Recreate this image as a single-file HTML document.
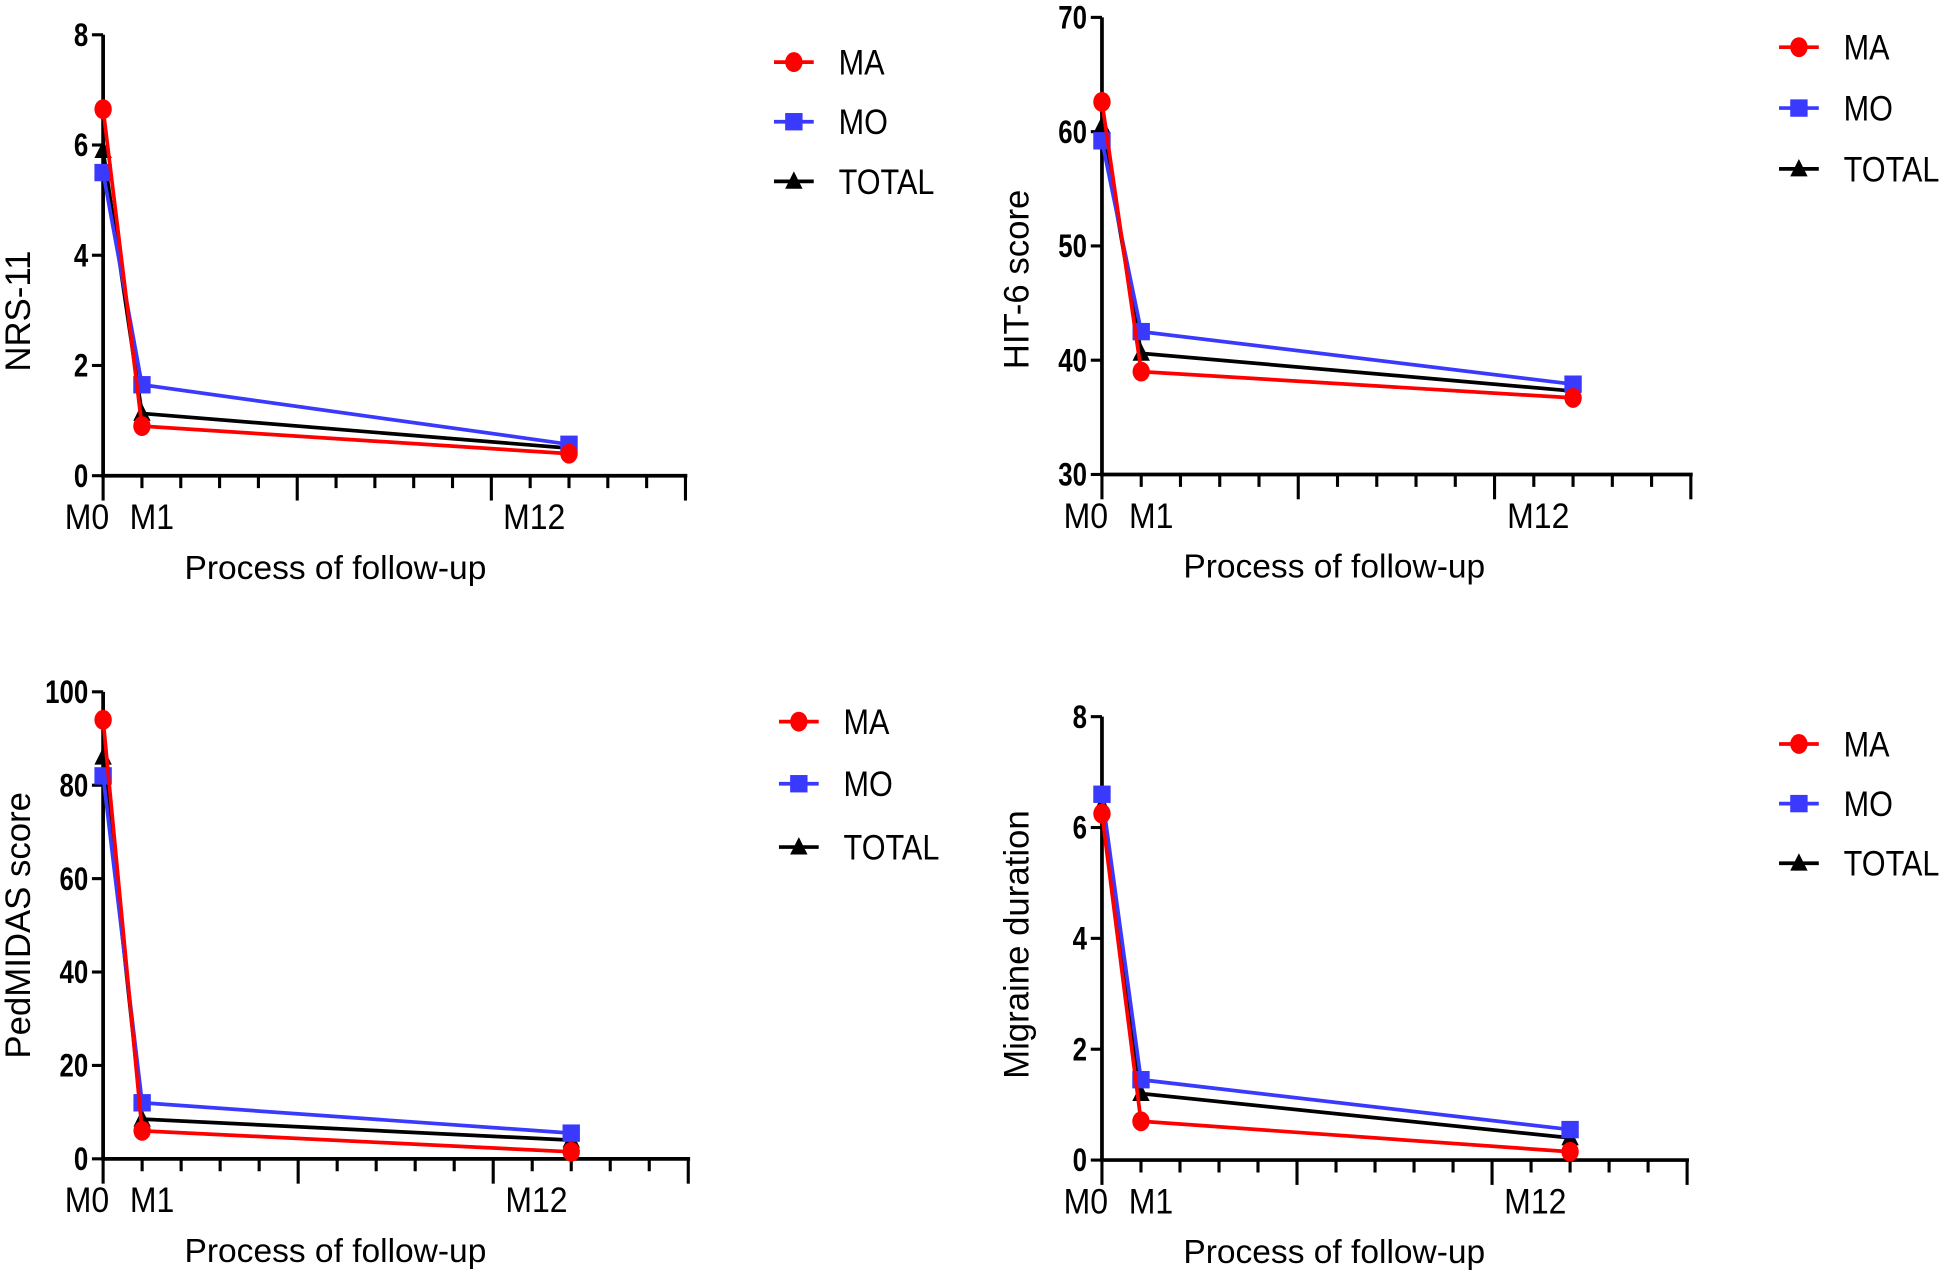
<!DOCTYPE html>
<html><head><meta charset="utf-8"><style>
html,body{margin:0;padding:0;background:#fff;}
svg{display:block;}
text{font-family:"Liberation Sans",sans-serif;}
</style></head><body>
<svg id="fig" width="1948" height="1288" viewBox="0 0 1568 1037" preserveAspectRatio="none" xmlns="http://www.w3.org/2000/svg"></svg>
<script>
const months = [0, 1, 12];
const catLabels = ["M0", "M1", "M12"];
const seriesNames = ["MA", "MO", "TOTAL"];
const nrsMA = [6.65, 0.9, 0.4];
const nrsMO = [5.5, 1.65, 0.57];
const nrsTOTAL = [5.9, 1.13, 0.5];
const hitMA = [62.6, 39.0, 36.7];
const hitMO = [59.2, 42.5, 37.9];
const hitTOTAL = [60.5, 40.6, 37.3];
const pedMA = [94, 6, 1.5];
const pedMO = [82, 12, 5.5];
const pedTOTAL = [86, 8.5, 4];
const durMA = [6.25, 0.7, 0.15];
const durMO = [6.6, 1.45, 0.55];
const durTOTAL = [6.4, 1.2, 0.4];
const nrsTicks = [0, 2, 4, 6, 8];
const hitTicks = [30, 40, 50, 60, 70];
const pedTicks = [0, 20, 40, 60, 80, 100];
const durTicks = [0, 2, 4, 6, 8];

const NS = "http://www.w3.org/2000/svg";
const svg = document.getElementById("fig");
const colors = {MA: "#ff0000", MO: "#3a3aff", TOTAL: "#000000"};
function mk(tag, attrs, parent) {
  const e = document.createElementNS(NS, tag);
  for (const k in attrs) e.setAttribute(k, attrs[k]);
  (parent || svg).appendChild(e);
  return e;
}
function txt(parent, x, y, s, size, sx, anchor, bold) {
  const t = mk("text", {x: 0, y: 0, "text-anchor": anchor || "start", "font-size": size, transform: `translate(${x},${y}) scale(${sx},1)`}, parent);
  if (bold) t.setAttribute("font-weight", "bold");
  t.textContent = s;
  return t;
}
function marker(g, name, x, y) {
  let m;
  if (name === "MA") m = mk("ellipse", {cx: x, cy: y, rx: 7, ry: 8, fill: colors.MA}, g);
  else if (name === "MO") m = mk("rect", {x: x - 7, y: y - 7, width: 14, height: 14, fill: colors.MO}, g);
  else m = mk("polygon", {points: `${x},${y - 8} ${x + 7},${y + 6} ${x - 7},${y + 6}`, fill: "#000"}, g);
  return m;
}
function panel(p) {
  const g = mk("g", {});
  
  
  const x0 = p.ax, x15 = p.ax + 15 * p.perMonth;
  const yMin = p.ticks[0], yMax = p.ticks[p.ticks.length - 1];
  const X = m => p.ax + m * p.perMonth;
  const Y = v => p.yBot - (v - yMin) / (yMax - yMin) * (p.yBot - p.yTop);
  const yax = mk("line", {x1: x0, y1: p.yTop, x2: x0, y2: p.yBot + 1.5, stroke: "#000", "stroke-width": 3}, g);
  
  
  const xax = mk("line", {x1: x0 - 1.5, y1: p.yBot, x2: x15 + 1.5, y2: p.yBot, stroke: "#000", "stroke-width": 3}, g);
  
  
  for (let m = 0; m <= 15; m++) {
    const len = (m % 5 === 0) ? 20 : 10;
    mk("line", {x1: X(m), y1: p.yBot, x2: X(m), y2: p.yBot + len, stroke: "#000", "stroke-width": 2.5}, g);
  }
  p.ticks.forEach(t => {
    mk("line", {x1: x0 - 9, y1: Y(t), x2: x0, y2: Y(t), stroke: "#000", "stroke-width": 2.5}, g);
    const tl = txt(g, x0 - 12, Y(t) + 9, String(t), 26, 0.8, "end", true);
    
    
  });
  catLabels.forEach((c, i) => {
    const off = i === 0 ? -13 : (i === 1 ? 8 : -28);
    const tl = txt(g, X(months[i]) + off, p.yBot + 43, c, 28, 0.92, "middle", false);
    
    
  });
  const xt = txt(g, p.ax + 187, p.yBot + 83, "Process of follow-up", 27, 1, "middle", false);
  
  
  const yt = mk("text", {x: 0, y: 0, "text-anchor": "middle", "font-size": 28, transform: `translate(${p.ax - 59},${(p.yTop + p.yBot) / 2 + p.ytOff}) rotate(-90)`}, g);
  yt.textContent = p.ytitle;
  
  
  [["TOTAL", p.data[2]], ["MO", p.data[1]], ["MA", p.data[0]]].forEach(([name, vals]) => {
    const sg = mk("g", {}, g);
    
    
    const pts = vals.map((v, i) => `${X(months[i])},${Y(v)}`).join(" ");
    mk("polyline", {points: pts, fill: "none", stroke: colors[name], "stroke-width": 3}, sg);
    vals.forEach((v, i) => {
      const mm = marker(sg, name, X(months[i]), Y(v));
      
      
    });
  });
  const lg = mk("g", {}, g);
  
  
  seriesNames.forEach((n, i) => {
    const y = p.legY[i];
    const e = mk("g", {}, lg);
    
    
    mk("line", {x1: p.legX, y1: y, x2: p.legX + 32, y2: y, stroke: colors[n], "stroke-width": 3}, e);
    marker(e, n, p.legX + 16, y);
    txt(e, p.legX + 52, y + 10, n, 28, 0.88, "start", false);
  });
}
panel({name: "nrs-chart", ax: 83, perMonth: 31.25, yTop: 28, yBot: 383, ticks: nrsTicks, data: [nrsMA, nrsMO, nrsTOTAL], ytitle: "NRS-11", ytOff: 45, legX: 623, legY: [50, 98, 146]});
panel({name: "hit6-chart", ax: 887, perMonth: 31.6, yTop: 14, yBot: 382, ticks: hitTicks, data: [hitMA, hitMO, hitTOTAL], ytitle: "HIT-6 score", ytOff: 27, legX: 1432, legY: [38, 87, 136]});
panel({name: "pedmidas-chart", ax: 83, perMonth: 31.4, yTop: 557, yBot: 933, ticks: pedTicks, data: [pedMA, pedMO, pedTOTAL], ytitle: "PedMIDAS score", ytOff: 0, legX: 627, legY: [581, 631, 682]});
panel({name: "migraine-duration-chart", ax: 887, perMonth: 31.4, yTop: 577, yBot: 934, ticks: durTicks, data: [durMA, durMO, durTOTAL], ytitle: "Migraine duration", ytOff: 5, legX: 1432, legY: [599, 647, 695]});
</script>
</body></html>
